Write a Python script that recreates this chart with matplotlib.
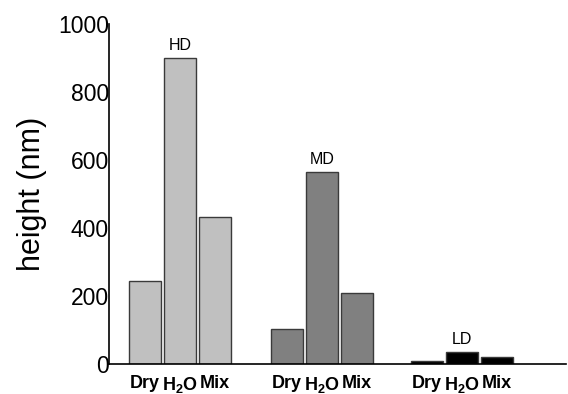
import matplotlib
matplotlib.use("Agg")
import matplotlib.pyplot as plt
import numpy as np

plt.rcParams["font.family"] = ["Liberation Sans", "DejaVu Sans"]
plt.rcParams["mathtext.fontset"] = "custom"
plt.rcParams["mathtext.rm"] = "Liberation Sans"
plt.rcParams["mathtext.bf"] = "Liberation Sans:bold"

groups = ["HD", "MD", "LD"]
conditions = ["Dry", "H$_\\mathbf{2}$O", "Mix"]
heights = {
    "HD": [244, 900, 432],
    "MD": [103, 565, 209],
    "LD": [9, 35, 20],
}
colors = {"HD": "#c0c0c0", "MD": "#808080", "LD": "#000000"}

group_centers = np.array([0.0, 4.05, 8.05])
offsets = np.array([-1.0, 0.0, 1.0])
bar_width = 0.914

fig = plt.figure(figsize=(5.68, 3.94), dpi=100)
ax = fig.add_axes([0.192, 0.076, 0.805, 0.863])

for gc, g in zip(group_centers, groups):
    xs = gc + offsets
    ax.bar(xs, heights[g], width=bar_width, color=colors[g],
           edgecolor="#3a3a3a", linewidth=1.0, zorder=2)
    ax.text(gc, max(heights[g]) + 14, g, ha="center", va="bottom", fontsize=11.5)
    for x, c in zip(xs, conditions):
        ax.text(x, -32, c, ha="center", va="top", fontsize=13,
                fontweight="bold")

ax.set_xlim(-2.03, 11.03)
ax.set_ylim(0, 1000)
ax.set_yticks([0, 200, 400, 600, 800, 1000])
ax.tick_params(axis="y", length=0, labelsize=16.5, pad=0)
ax.set_xticks([])
ax.spines["top"].set_visible(False)
ax.spines["right"].set_visible(False)
ax.spines["left"].set_linewidth(1.2)
ax.spines["bottom"].set_linewidth(1.2)
ax.set_ylabel("height (nm)", fontsize=22, labelpad=8)

fig.savefig("out.png", dpi=100)
